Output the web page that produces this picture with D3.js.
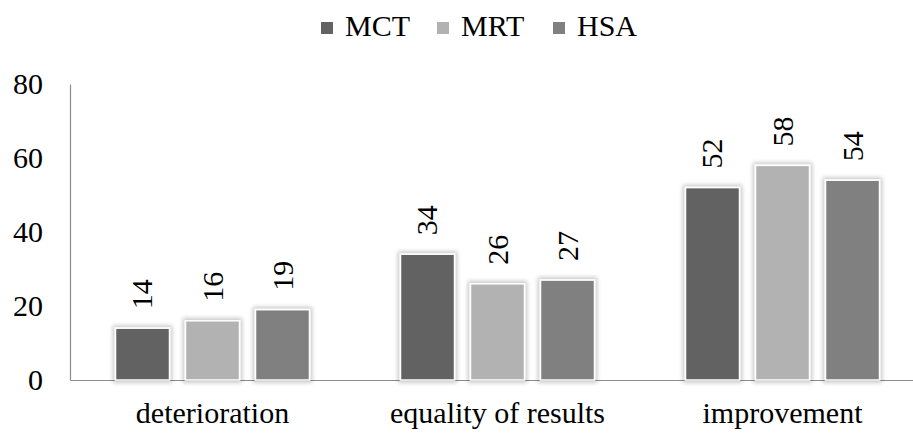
<!DOCTYPE html>
<html>
<head>
<meta charset="utf-8">
<script src="https://cdn.jsdelivr.net/npm/d3@7"></script>
<style>
  html, body { margin: 0; padding: 0; background: #fff; }
</style>
</head>
<body>
<svg id="chart" width="913" height="434" font-family="Liberation Serif, Times New Roman, serif"></svg>
<script>
// Outcome categories and counts per method
const categories = ["deterioration", "equality of results", "improvement"];
const seriesNames = ["MCT", "MRT", "HSA"];
const mctValues = [14, 34, 52];
const mrtValues = [16, 26, 58];
const hsaValues = [19, 27, 54];
const yTicks = [0, 20, 40, 60, 80];
const seriesColors = ["#626262", "#b2b2b2", "#808080"];

const FONT = "Liberation Serif, Times New Roman, serif";
const seriesValues = [mctValues, mrtValues, hsaValues];
const rows = categories.map((c, i) => ({
  category: c,
  values: seriesNames.map((s, j) => ({ series: s, value: seriesValues[j][i] }))
}));

const svg = d3.select("#chart");
const plotLeft = 70, plotTop = 84, plotBottom = 380, plotRight = 925;

const x0 = d3.scaleBand().domain(categories).range([plotLeft, plotRight]);
const x1 = d3.scaleBand().domain(seriesNames).range([0, x0.bandwidth()])
  .paddingInner(0.2286).paddingOuter(0.65);
const y = d3.scaleLinear().domain([0, 80]).range([plotBottom, plotTop]);
const color = d3.scaleOrdinal().domain(seriesNames).range(seriesColors);

// soft grey halo around each bar
const defs = svg.append("defs");
const f = defs.append("filter").attr("id", "glow")
  .attr("x", "-30%").attr("y", "-30%").attr("width", "160%").attr("height", "160%");
f.append("feMorphology").attr("in", "SourceAlpha").attr("operator", "dilate").attr("radius", 2).attr("result", "d");
f.append("feGaussianBlur").attr("in", "d").attr("stdDeviation", 2).attr("result", "b");
f.append("feComponentTransfer").attr("in", "b").attr("result", "s")
  .append("feFuncA").attr("type", "linear").attr("slope", 0.22);
const m = f.append("feMerge");
m.append("feMergeNode").attr("in", "s");
m.append("feMergeNode").attr("in", "SourceGraphic");

// y axis
const gy = svg.append("g").attr("transform", `translate(${plotLeft},0)`)
  .call(d3.axisLeft(y).tickValues(yTicks).tickSize(0).tickPadding(27));
gy.attr("font-family", FONT).attr("font-size", 30);
gy.select(".domain").attr("stroke", "#8c8c8c").attr("stroke-width", 1.2);
gy.selectAll("text").attr("fill", "#000");

// x axis
const gx = svg.append("g").attr("transform", `translate(0,${plotBottom})`)
  .call(d3.axisBottom(x0).tickSize(0).tickPadding(22));
gx.attr("font-family", FONT).attr("font-size", 30);
gx.select(".domain").attr("stroke", "#8c8c8c").attr("stroke-width", 1.2);
gx.selectAll("text").attr("fill", "#000");

// bars
const groups = svg.append("g").selectAll("g").data(rows).join("g")
  .attr("transform", d => `translate(${x0(d.category)},0)`);

groups.selectAll("rect").data(d => d.values).join("rect")
  .attr("x", d => x1(d.series))
  .attr("y", d => y(d.value))
  .attr("width", x1.bandwidth())
  .attr("height", d => y(0) - y(d.value))
  .attr("fill", d => color(d.series))
  .attr("stroke", "#fff")
  .attr("stroke-width", 1.5)
  .attr("filter", "url(#glow)");

// value labels, rotated
groups.selectAll("text.val").data(d => d.values).join("text")
  .attr("class", "val")
  .attr("transform", d => `translate(${x1(d.series) + x1.bandwidth() / 2 + 10},${y(d.value) - 19}) rotate(-90)`)
  .attr("text-anchor", "start")
  .attr("font-size", 30)
  .attr("fill", "#000")
  .text(d => d.value);

// legend
const legendX = [321, 437, 553];
const legend = svg.append("g").selectAll("g").data(seriesNames).join("g")
  .attr("transform", (d, i) => `translate(${legendX[i]},0)`);
legend.append("rect").attr("x", 0).attr("y", 22).attr("width", 12).attr("height", 12)
  .attr("fill", d => color(d));
legend.append("text").attr("x", 24).attr("y", 36).attr("font-size", 30).attr("fill", "#000")
  .text(d => d);
</script>
</body>
</html>
